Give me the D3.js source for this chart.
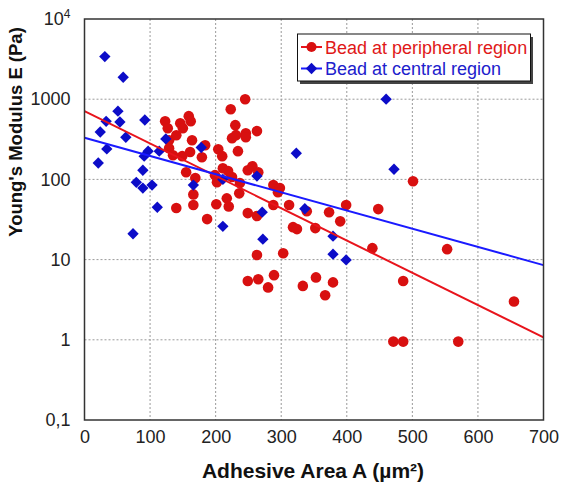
<!DOCTYPE html>
<html>
<head>
<meta charset="utf-8">
<script src="https://cdn.jsdelivr.net/npm/d3@7"></script>
<style>
  html, body { margin: 0; padding: 0; background: #fff; }
  svg { display: block; }
</style>
</head>
<body>
<svg id="chart" width="562" height="486"></svg>
<script>
// ---- data ----
const peripheralArea = [123,127,146,150,159,162,140,129,129,135,149,161,164,155,169,166,166,140,187,184,179,204,210,211,219,225,199,202,201,217,220,236,237,249,263,263,249,265,245,223,230,225,231,246,246,263,234,249,256,265,288,298,295,288,312,399,448,373,339,390,318,324,352,439,303,289,280,333,353,379,367,486,471,486,501,553,655,570];
const peripheralModulus = [530,435,500,435,615,530,355,308,245,200,195,220,308,123,104,65,48,44,32,267,189,238,195,138,127,107,113,92,49,58,46,67,90,38,35,11.4,5.4,5.7,1000,750,475,327,356,377,336,400,225,130,146,123,85,78,69,48,48,48,42.6,39,40,30,25.4,24,24.7,13.9,12,6.4,4.5,4.7,6.0,5.2,3.6,5.4,0.95,0.95,95,13.5,3.0,0.95];
const centralArea = [31,59,51,33,54,92,24,63,34,21,124,97,91,114,89,79,89,103,111,74,166,178,211,263,211,271,272,336,379,379,399,323,460,472];
const centralModulus = [3400,1880,710,530,520,550,390,335,240,160,320,225,195,225,130,92,78,85,45,21,85,250,100,110,26,39,18,43,19.6,11.7,9.9,212,1000,134];
const fitAreaRange = [0, 700];
const peripheralFit = [708, 1.07];
const centralFit = [330, 8.54];
const xTicks = [0,100,200,300,400,500,600,700];
const yTicks = [0.1,1,10,100,1000,10000];
const yTickLabels = ["0,1","1","10","100","1000","10^4"];
const seriesNames = ["Bead at peripheral region","Bead at central region"];
const xTitle = "Adhesive Area A (µm²)";
const yTitle = "Young's Modulus E (Pa)";

// ---- layout ----
const L = 84.5, R = 543.5, T = 19, B = 420;
const red = "#d81010", blue = "#0c0cc8";
const redLine = "#e8141c", blueLine = "#1a1aff";
const font = "'Liberation Sans', Arial, sans-serif";

const svg = d3.select("#chart");
const x = d3.scaleLinear().domain([0,700]).range([L,R]);
const y = d3.scaleLog().domain([0.1,10000]).range([B,T]);

// grid
const grid = svg.append("g");
grid.selectAll("line.vx").data(xTicks.slice(1,-1)).join("line")
  .attr("x1", d=>x(d)).attr("x2", d=>x(d)).attr("y1", T).attr("y2", B)
  .attr("stroke", "#9a9a9a").attr("stroke-width", 1).attr("stroke-dasharray", "2,2");
grid.selectAll("line.hy").data(yTicks.slice(1,-1)).join("line")
  .attr("x1", L).attr("x2", R).attr("y1", d=>y(d)).attr("y2", d=>y(d))
  .attr("stroke", "#9a9a9a").attr("stroke-width", 1).attr("stroke-dasharray", "2,2");

// clip
svg.append("clipPath").attr("id","clip").append("rect")
  .attr("x", L).attr("y", T).attr("width", R-L).attr("height", B-T);
const plot = svg.append("g").attr("clip-path","url(#clip)");

// red points
plot.selectAll("circle.p").data(peripheralArea.map((a,i)=>[a, peripheralModulus[i]])).join("circle")
  .attr("cx", d=>x(d[0])).attr("cy", d=>y(d[1])).attr("r", 5.3).attr("fill", red);

// blue diamonds
const diamond = d3.symbol().type(d3.symbolDiamond2).size(82);
plot.selectAll("path.c").data(centralArea.map((a,i)=>[a, centralModulus[i]])).join("path")
  .attr("d", diamond).attr("transform", d=>`translate(${x(d[0])},${y(d[1])})`).attr("fill", blue);

// fit lines
const line = d3.line().x(d=>x(d[0])).y(d=>y(d[1]));
plot.append("path").datum(fitAreaRange.map((a,i)=>[a, peripheralFit[i]]))
  .attr("d", line).attr("stroke", redLine).attr("stroke-width", 2).attr("fill","none");
plot.append("path").datum(fitAreaRange.map((a,i)=>[a, centralFit[i]]))
  .attr("d", line).attr("stroke", blueLine).attr("stroke-width", 2).attr("fill","none");

// frame
svg.append("rect").attr("x", L).attr("y", T).attr("width", R-L).attr("height", B-T)
  .attr("fill","none").attr("stroke","#333").attr("stroke-width",1.5);

// x axis
const xAxis = svg.append("g").attr("transform", `translate(0,${B})`)
  .call(d3.axisBottom(x).tickValues(xTicks).tickSize(0).tickPadding(10).tickFormat(d3.format("d")));
xAxis.select(".domain").remove();
xAxis.selectAll("text").attr("font-family", font).attr("font-size", 18).attr("fill", "#222");

// y axis
const yAxis = svg.append("g").attr("transform", `translate(${L},0)`)
  .call(d3.axisLeft(y).tickValues(yTicks).tickSize(0).tickPadding(14).tickFormat((d,i)=>""));
yAxis.select(".domain").remove();
yAxis.selectAll("text").each(function(d,i){
  const t = d3.select(this).attr("font-family", font).attr("font-size", 18).attr("fill","#222");
  const lab = yTickLabels[i];
  if (lab.includes("^")) {
    const [b,e] = lab.split("^");
    t.append("tspan").text(b);
    t.append("tspan").attr("dy", -7).attr("font-size", 12).text(e);
  } else {
    t.text(lab);
  }
});

// axis titles
svg.append("text").attr("x", (L+R)/2 - 1).attr("y", 478).attr("text-anchor","middle")
  .attr("font-family", font).attr("font-weight","bold").attr("font-size", 21).attr("fill","#111")
  .text(xTitle);
svg.append("text").attr("transform", "translate(22,132) rotate(-90)").attr("text-anchor","middle")
  .attr("font-family", font).attr("font-weight","bold").attr("font-size", 18.5).attr("fill","#111")
  .text(yTitle);

// legend
const lg = svg.append("g");
lg.append("rect").attr("x", 300).attr("y", 37).attr("width", 233).attr("height", 47).attr("fill", "#444");
lg.append("rect").attr("x", 297.5).attr("y", 34).attr("width", 233).attr("height", 47)
  .attr("fill","#fff").attr("stroke","#111").attr("stroke-width",1);
const entries = [
  {name: seriesNames[0], line: redLine, mark: red, shape: "circle", text: "#e01818"},
  {name: seriesNames[1], line: blueLine, mark: blue, shape: "diamond", text: "#2020cc"}
];
entries.forEach((e,i)=>{
  const cy = 47 + i*21.5;
  lg.append("line").attr("x1", 301).attr("x2", 322).attr("y1", cy).attr("y2", cy)
    .attr("stroke", e.line).attr("stroke-width", 2);
  if (e.shape === "circle") {
    lg.append("circle").attr("cx", 311.5).attr("cy", cy).attr("r", 5).attr("fill", e.mark);
  } else {
    lg.append("path").attr("d", diamond).attr("transform", `translate(311.5,${cy})`).attr("fill", e.mark);
  }
  lg.append("text").attr("x", 325).attr("y", cy + 6.5).attr("font-family", font).attr("font-size", 18)
    .attr("fill", e.text).text(e.name);
});
</script>
</body>
</html>
